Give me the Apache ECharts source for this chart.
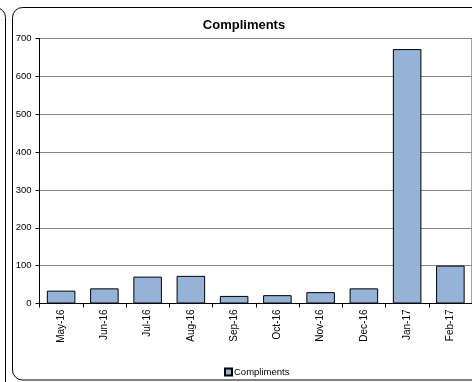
<!DOCTYPE html>
<html>
<head>
<meta charset="utf-8">
<script src="https://cdn.jsdelivr.net/npm/echarts@6/dist/echarts.min.js"></script>
<style>
html,body{margin:0;padding:0;background:#fff;}
#chart{width:472px;height:382px;}
</style>
</head>
<body>
<div id="chart"></div>
<script>
const categories = ['May-16','Jun-16','Jul-16','Aug-16','Sep-16','Oct-16','Nov-16','Dec-16','Jan-17','Feb-17'];
const compliments = [34, 40, 71, 73, 20, 22, 30, 40, 672, 100];
const seriesName = 'Compliments';
const chartTitle = 'Compliments';

const chart = echarts.init(document.getElementById('chart'), null, {renderer: 'canvas'});
const font = '"Liberation Sans", Arial, sans-serif';
chart.setOption({
  animation: false,
  backgroundColor: '#fff',
  textStyle: {fontFamily: font},
  title: {
    text: chartTitle,
    left: 239, textAlign: 'center', top: 14,
    textStyle: {fontSize: 13, fontWeight: 'bold', color: '#000', fontFamily: font}
  },
  legend: {
    data: [seriesName],
    left: 219, top: 362,
    icon: 'rect', itemWidth: 7, itemHeight: 7, itemGap: 4,
    textStyle: {fontSize: 9.5, color: '#000', fontFamily: font, padding: [0,0,0,-3]}
  },
  graphic: [
    {type: 'rect', shape: {x: -100, y: 7.5, width: 105.5, height: 420, r: 10}, style: {fill: 'none', stroke: '#000', lineWidth: 1}, silent: true, z: -10},
    {type: 'rect', shape: {x: 12.5, y: 7.5, width: 490, height: 372.5, r: 10}, style: {fill: 'none', stroke: '#000', lineWidth: 1}, silent: true, z: -10}
  ],
  grid: {left: 39.5, top: 38.5, width: 434, height: 265, show: true, borderColor: '#444', borderWidth: 1, backgroundColor: 'transparent'},
  xAxis: {
    type: 'category', data: categories,
    axisLine: {lineStyle: {color: '#000', width: 1}},
    axisTick: {show: true, alignWithLabel: false, length: 4, lineStyle: {color: '#000'}},
    axisLabel: {rotate: 90, fontSize: 10, color: '#000', margin: 6, fontFamily: font, interval: 0},
    splitLine: {show: false}
  },
  yAxis: {
    type: 'value', min: 0, max: 700, interval: 100,
    axisLine: {show: true, lineStyle: {color: '#000', width: 1}},
    axisTick: {show: true, length: 4, lineStyle: {color: '#000'}},
    axisLabel: {fontSize: 9.5, color: '#000', margin: 8, fontFamily: font},
    splitLine: {show: true, lineStyle: {color: '#888', width: 1}}
  },
  series: [{
    name: seriesName, type: 'bar', data: compliments,
    barWidth: '66%',
    itemStyle: {color: '#95B3D7', borderColor: '#000', borderWidth: 1}
  }]
});
</script>
</body>
</html>
